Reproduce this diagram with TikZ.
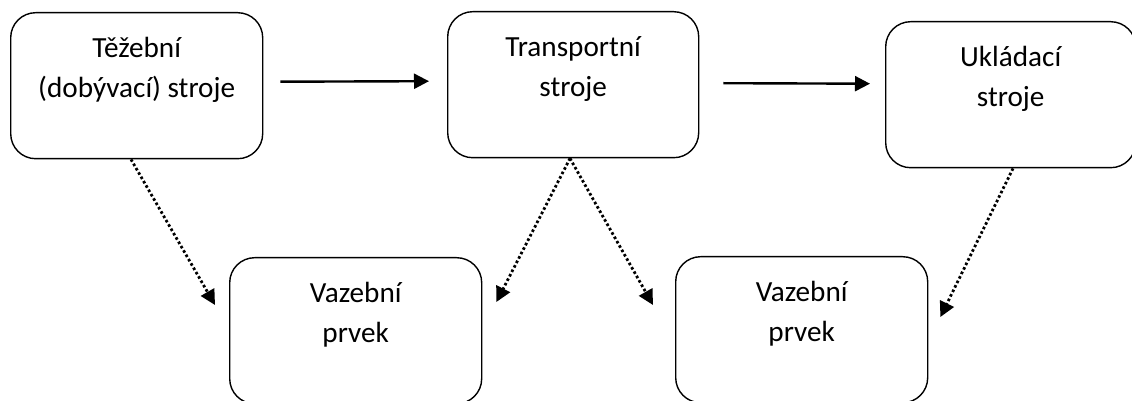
\documentclass[tikz,border=0pt]{standalone}
\usepackage{fontspec}
\setmainfont{Carlito}
\frenchspacing
\usetikzlibrary{arrows.meta,calc}

\begin{document}
\begin{tikzpicture}[x=0.5pt,y=-0.5pt,
	stroj/.style={draw,line width=0.7pt,rounded corners=12.5pt,anchor=north west,inner sep=0pt,
		text width=#1,align=flush center,text height=22.5pt,text depth=50.5pt,font=\fontsize{14.6}{20}\selectfont},
	stroj/.default=126pt,
	tok/.style={line width=1.2pt,-{Triangle[length=7.5pt,width=7.5pt]}},
	vazba/.style={line width=1.4pt,dash pattern=on 1.3pt off 1.2pt,-{Triangle[length=7.5pt,width=7.5pt]}}]
	\useasboundingbox (0,0) rectangle (1132,401);
	\clip (0,0) rectangle (1132,401);
	% horni rada: stroje
	\node[stroj] (tez) at (10,12) {Těžební\\(dobývací) stroje};
	\node[stroj=125.5pt] (trans) at (447,11) {Transportní\\stroje};
	\node[stroj=125pt] (uklad) at (885,21) {Ukládací\\stroje};
	% dolni rada: vazebni prvky
	\node[stroj] (vaz1) at (229,257) {Vazební\\prvek};
	\node[stroj] (vaz2) at (675,256) {Vazební\\prvek};
	\path
	($(tez.south west)+(121,0)$) coordinate (T)
	($(trans.south west)+(123,0)$) coordinate (P)
	($(uklad.south west)+(128,0)$) coordinate (U)
	($(vaz1.north west)+(-14,48)$) coordinate (A)
	($(vaz1.north east)+(14,45)$) coordinate (B)
	($(vaz2.north west)+(-22,49)$) coordinate (C)
	($(vaz2.north east)+(12,61)$) coordinate (D);
	\draw[tok] ([shift={(17,-4)}]tez.east) -- ([shift={(-18,-3.5)}]trans.west);
	\draw[tok] ([shift={(24,-1.5)}]trans.east) -- ([shift={(-15,-11)}]uklad.west);
	\draw[vazba] (T)--(A);
	\draw[vazba] (P)--(B);
	\draw[vazba] (P)--(C);
	\draw[vazba] (U)--(D);
\end{tikzpicture}
\end{document}
